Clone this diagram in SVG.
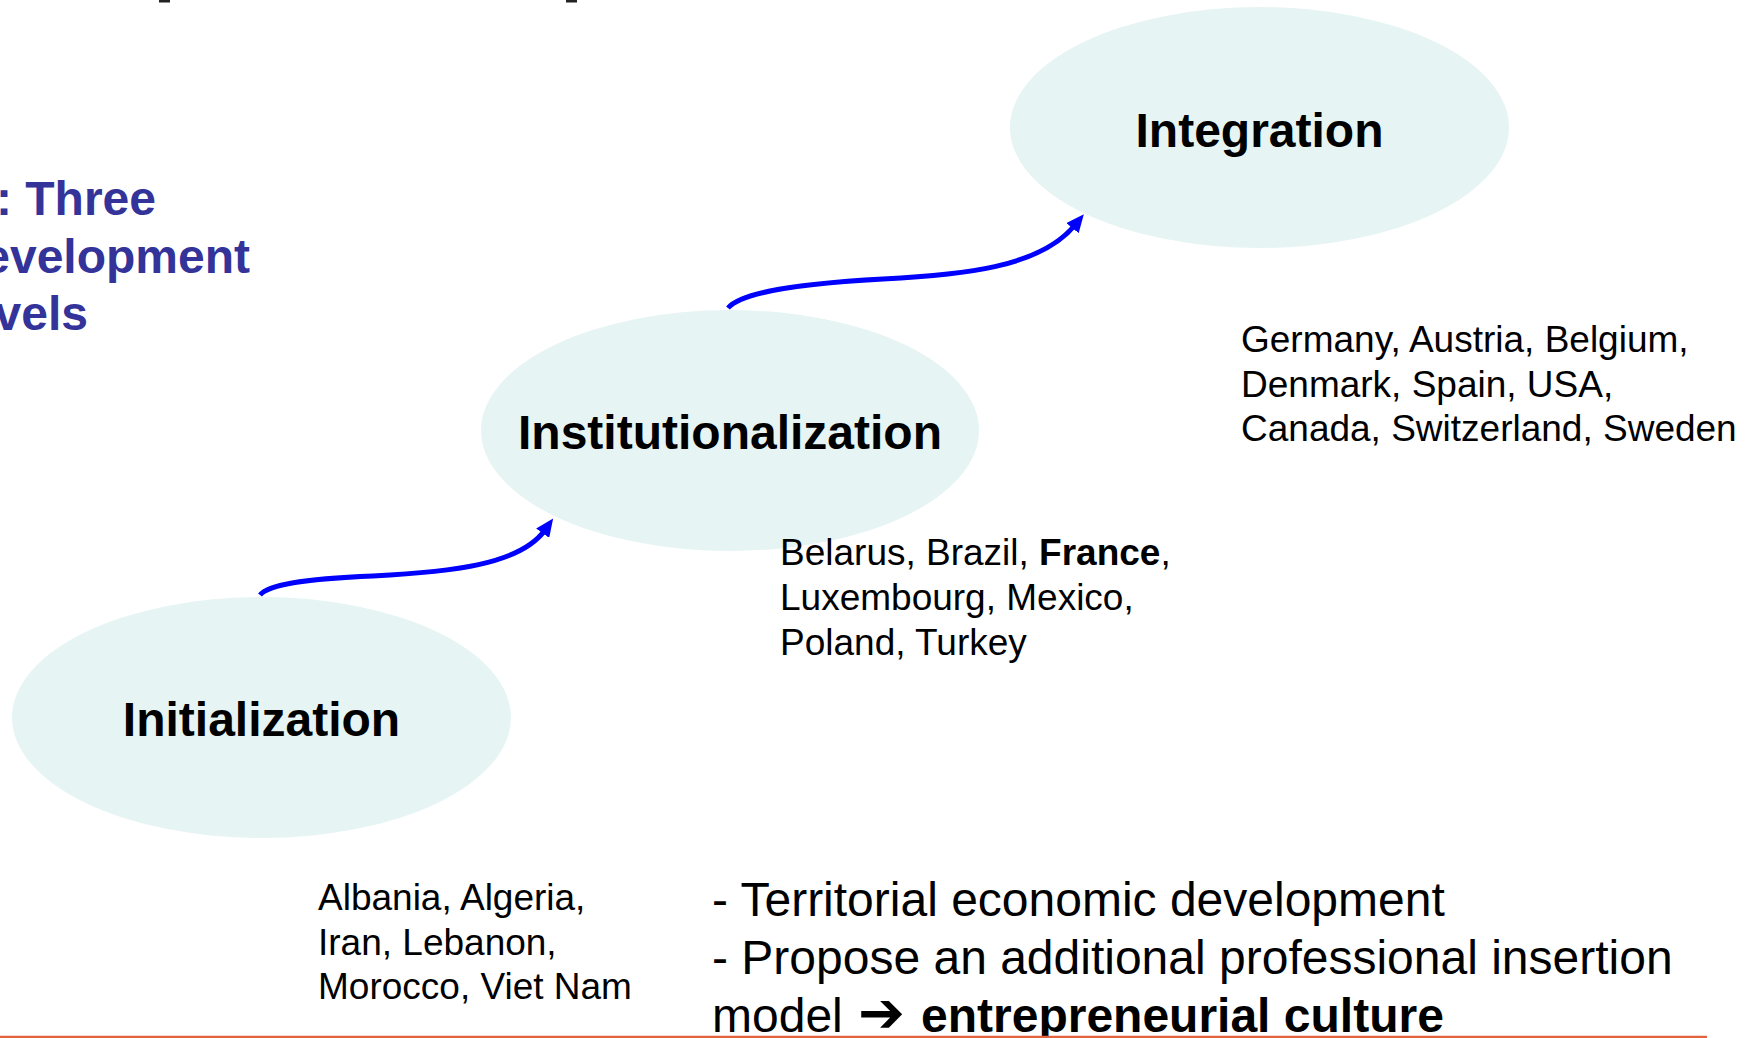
<svg xmlns="http://www.w3.org/2000/svg" width="1745" height="1038" viewBox="0 0 1745 1038">
<style>
.bg{fill:#ffffff}
.stage{fill:#E7F4F4}
.stitle{font-family:"Liberation Sans",Arial,sans-serif;font-weight:bold;font-size:48px;fill:#000;text-anchor:middle}
.countries{font-family:"Liberation Sans",Arial,sans-serif;font-size:37px;fill:#000}
.blue{font-family:"Liberation Sans",Arial,sans-serif;font-weight:bold;font-size:48px;fill:#333399;text-anchor:end}
.bullets{font-family:"Liberation Sans",Arial,sans-serif;font-size:48px;fill:#000}
.b{font-weight:bold}
.conn{fill:none;stroke:#0000FF;stroke-width:5;stroke-linecap:butt}
</style>
<defs>
<marker id="ah" markerUnits="userSpaceOnUse" viewBox="0 0 18 16" markerWidth="18" markerHeight="16" refX="4" refY="8" orient="auto">
<path d="M0,0 L18,8 L0,16 z" fill="#0000FF"/>
</marker>
</defs>
<rect class="bg" x="0" y="0" width="1745" height="1038"/>

<g id="title-fragments">
<rect x="159" y="0" width="11" height="2.5" fill="#222"/>
<rect x="566" y="0" width="11" height="2.5" fill="#222"/>
</g>

<g id="side-title">
<text class="blue" x="156" y="215">: Three</text>
<text class="blue" x="250" y="273">evelopment</text>
<text class="blue" x="88" y="330">vels</text>
</g>

<g id="node-integration">
<ellipse class="stage" cx="1259.5" cy="127.5" rx="249.5" ry="120.5"/>
<text class="stitle" x="1259.5" y="147">Integration</text>
</g>

<g id="node-institutionalization">
<ellipse class="stage" cx="730" cy="430.5" rx="249" ry="120.5"/>
<text class="stitle" x="730" y="449">Institutionalization</text>
</g>

<g id="node-initialization">
<ellipse class="stage" cx="261.5" cy="717.5" rx="249.5" ry="120.5"/>
<text class="stitle" x="261.5" y="736">Initialization</text>
</g>

<g id="connectors">
<path class="conn" d="M260,595 C268,585 300,579 373,576 C450,572 520,565 545,530" marker-end="url(#ah)"/>
<path class="conn" d="M728,308 C738,296 775,285 883,279 C960,275 1040,268 1075,225" marker-end="url(#ah)"/>
</g>

<g id="countries-integration">
<text class="countries" x="1241" y="352">Germany, Austria, Belgium,</text>
<text class="countries" x="1241" y="396.5">Denmark, Spain, USA,</text>
<text class="countries" x="1241" y="441">Canada, Switzerland, Sweden</text>
</g>

<g id="countries-institutionalization">
<text class="countries" x="780" y="565">Belarus, Brazil, <tspan class="b">France</tspan>,</text>
<text class="countries" x="780" y="610">Luxembourg, Mexico,</text>
<text class="countries" x="780" y="654.5">Poland, Turkey</text>
</g>

<g id="countries-initialization">
<text class="countries" x="318" y="910">Albania, Algeria,</text>
<text class="countries" x="318" y="954.5">Iran, Lebanon,</text>
<text class="countries" x="318" y="999">Morocco, Viet Nam</text>
</g>

<g id="bullets">
<text class="bullets" x="712" y="916">- Territorial economic development</text>
<text class="bullets" x="712" y="974">- Propose an additional professional insertion</text>
<text class="bullets" x="712" y="1032">model <tspan class="b" x="858" font-family="'DejaVu Sans',sans-serif" font-size="56px">➔</tspan><tspan class="b" x="921">entrepreneurial culture</tspan></text>
</g>

<line x1="0" y1="1037" x2="1707" y2="1037" stroke="#E2633F" stroke-width="2.5"/>
</svg>
